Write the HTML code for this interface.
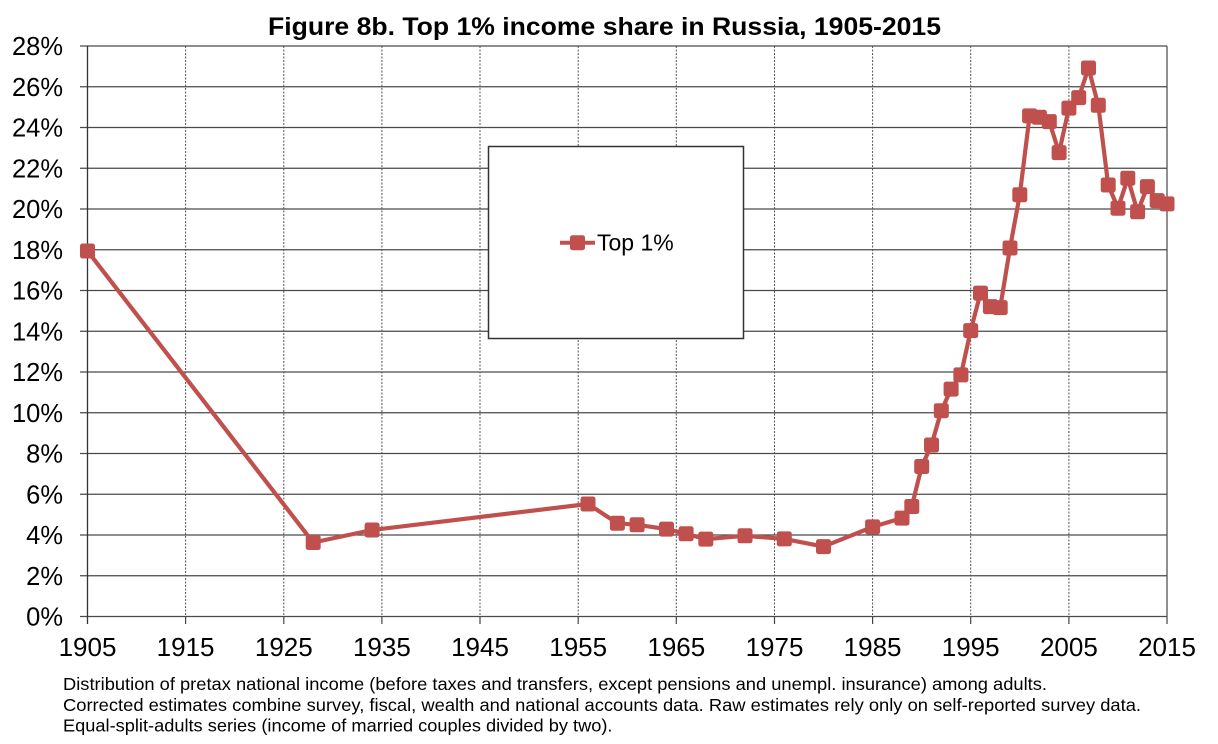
<!DOCTYPE html>
<html><head><meta charset="utf-8"><style>
html,body{margin:0;padding:0;background:#fff;}
svg{display:block;font-family:"Liberation Sans",Arial,sans-serif;}
</style></head><body>
<svg width="1218" height="744" viewBox="0 0 1218 744" xmlns="http://www.w3.org/2000/svg">
<rect width="1218" height="744" fill="#fff"/>
<text x="604.5" y="35" font-size="25" font-weight="bold" text-anchor="middle" textLength="673" lengthAdjust="spacingAndGlyphs" fill="#000">Figure 8b. Top 1% income share in Russia, 1905-2015</text>
<!-- vertical dotted gridlines -->
<g stroke="#555" stroke-width="1" stroke-dasharray="2,1.5">
<line x1="185.6" y1="46" x2="185.6" y2="616.5"/>
<line x1="283.8" y1="46" x2="283.8" y2="616.5"/>
<line x1="381.9" y1="46" x2="381.9" y2="616.5"/>
<line x1="480.0" y1="46" x2="480.0" y2="616.5"/>
<line x1="578.2" y1="46" x2="578.2" y2="616.5"/>
<line x1="676.3" y1="46" x2="676.3" y2="616.5"/>
<line x1="774.5" y1="46" x2="774.5" y2="616.5"/>
<line x1="872.6" y1="46" x2="872.6" y2="616.5"/>
<line x1="970.7" y1="46" x2="970.7" y2="616.5"/>
<line x1="1068.9" y1="46" x2="1068.9" y2="616.5"/>
</g>
<!-- ticks below -->
<g stroke="#444" stroke-width="1.2">
<line x1="185.6" y1="616.5" x2="185.6" y2="624"/>
<line x1="283.8" y1="616.5" x2="283.8" y2="624"/>
<line x1="381.9" y1="616.5" x2="381.9" y2="624"/>
<line x1="480.0" y1="616.5" x2="480.0" y2="624"/>
<line x1="578.2" y1="616.5" x2="578.2" y2="624"/>
<line x1="676.3" y1="616.5" x2="676.3" y2="624"/>
<line x1="774.5" y1="616.5" x2="774.5" y2="624"/>
<line x1="872.6" y1="616.5" x2="872.6" y2="624"/>
<line x1="970.7" y1="616.5" x2="970.7" y2="624"/>
<line x1="1068.9" y1="616.5" x2="1068.9" y2="624"/>
<line x1="1167" y1="616.5" x2="1167" y2="624"/>
</g>
<!-- horizontal gridlines -->
<g stroke="#4a4a4a" stroke-width="1.3">
<line x1="80" y1="616.5" x2="1167" y2="616.5"/>
<line x1="80" y1="575.75" x2="1167" y2="575.75"/>
<line x1="80" y1="535" x2="1167" y2="535"/>
<line x1="80" y1="494.25" x2="1167" y2="494.25"/>
<line x1="80" y1="453.5" x2="1167" y2="453.5"/>
<line x1="80" y1="412.75" x2="1167" y2="412.75"/>
<line x1="80" y1="372" x2="1167" y2="372"/>
<line x1="80" y1="331.25" x2="1167" y2="331.25"/>
<line x1="80" y1="290.5" x2="1167" y2="290.5"/>
<line x1="80" y1="249.75" x2="1167" y2="249.75"/>
<line x1="80" y1="209" x2="1167" y2="209"/>
<line x1="80" y1="168.25" x2="1167" y2="168.25"/>
<line x1="80" y1="127.5" x2="1167" y2="127.5"/>
<line x1="80" y1="86.75" x2="1167" y2="86.75"/>
<line x1="80" y1="46" x2="1167" y2="46"/>
</g>
<line x1="87.5" y1="46" x2="87.5" y2="624" stroke="#333" stroke-width="1.3"/>
<line x1="1167" y1="46" x2="1167" y2="616.5" stroke="#555" stroke-width="1.3"/>
<!-- legend -->
<rect x="488.5" y="146.5" width="255" height="192" fill="#fff" stroke="#333" stroke-width="1.5"/>
<line x1="560" y1="242.7" x2="595" y2="242.7" stroke="#C0504D" stroke-width="4"/>
<rect x="570" y="235.2" width="15" height="15" rx="2.5" fill="#C0504D"/>
<text x="597" y="250.5" font-size="23" fill="#000">Top 1%</text>
<!-- y labels -->
<g font-size="25.5" text-anchor="end" fill="#000">
<text x="63" y="625.5">0%</text>
<text x="63" y="584.75">2%</text>
<text x="63" y="544">4%</text>
<text x="63" y="503.25">6%</text>
<text x="63" y="462.5">8%</text>
<text x="63" y="421.75">10%</text>
<text x="63" y="381">12%</text>
<text x="63" y="340.25">14%</text>
<text x="63" y="299.5">16%</text>
<text x="63" y="258.75">18%</text>
<text x="63" y="218">20%</text>
<text x="63" y="177.25">22%</text>
<text x="63" y="136.5">24%</text>
<text x="63" y="95.75">26%</text>
<text x="63" y="55">28%</text>
</g>
<!-- x labels -->
<g font-size="26" text-anchor="middle" fill="#000">
<text x="87.5" y="656">1905</text>
<text x="185.6" y="656">1915</text>
<text x="283.8" y="656">1925</text>
<text x="381.9" y="656">1935</text>
<text x="480.0" y="656">1945</text>
<text x="578.2" y="656">1955</text>
<text x="676.3" y="656">1965</text>
<text x="774.5" y="656">1975</text>
<text x="872.6" y="656">1985</text>
<text x="970.7" y="656">1995</text>
<text x="1068.9" y="656">2005</text>
<text x="1167" y="656">2015</text>
</g>
<!-- series -->
<polyline fill="none" stroke="#C0504D" stroke-width="4.2" stroke-linejoin="round" points="87.5,251 313.2,542.5 372.1,530 588,504 617.4,523.2 637.1,524.8 666.5,529.1 686.1,533.8 705.8,539.1 745,535.8 784.3,538.9 823.5,546.6 872.6,526.9 902,518.1 911.8,506.5 921.7,466.5 931.5,445 941.3,410.7 951.1,389.1 960.9,374.9 970.7,330.6 980.5,293.1 990.4,306.6 1000.2,307.6 1010,248 1019.8,194.7 1029.6,115.9 1039.4,117.3 1049.3,121.6 1059.1,152.6 1068.9,108.1 1078.7,97.6 1088.5,68 1098.3,105.3 1108.2,185 1118,208.2 1127.8,178.2 1137.6,211.8 1147.4,186.6 1157.2,200.6 1167,203.9"/>
<g fill="#C0504D" transform="translate(-0.5,-0.5)">
<rect x="80.5" y="244" width="15" height="15" rx="2.5"/>
<rect x="306.2" y="535.5" width="15" height="15" rx="2.5"/>
<rect x="365.1" y="523" width="15" height="15" rx="2.5"/>
<rect x="581" y="497" width="15" height="15" rx="2.5"/>
<rect x="610.4" y="516.2" width="15" height="15" rx="2.5"/>
<rect x="630.1" y="517.8" width="15" height="15" rx="2.5"/>
<rect x="659.5" y="522.1" width="15" height="15" rx="2.5"/>
<rect x="679.1" y="526.8" width="15" height="15" rx="2.5"/>
<rect x="698.8" y="532.1" width="15" height="15" rx="2.5"/>
<rect x="738" y="528.8" width="15" height="15" rx="2.5"/>
<rect x="777.3" y="531.9" width="15" height="15" rx="2.5"/>
<rect x="816.5" y="539.6" width="15" height="15" rx="2.5"/>
<rect x="865.6" y="519.9" width="15" height="15" rx="2.5"/>
<rect x="895" y="511.1" width="15" height="15" rx="2.5"/>
<rect x="904.8" y="499.5" width="15" height="15" rx="2.5"/>
<rect x="914.7" y="459.5" width="15" height="15" rx="2.5"/>
<rect x="924.5" y="438" width="15" height="15" rx="2.5"/>
<rect x="934.3" y="403.7" width="15" height="15" rx="2.5"/>
<rect x="944.1" y="382.1" width="15" height="15" rx="2.5"/>
<rect x="953.9" y="367.9" width="15" height="15" rx="2.5"/>
<rect x="963.7" y="323.6" width="15" height="15" rx="2.5"/>
<rect x="973.5" y="286.1" width="15" height="15" rx="2.5"/>
<rect x="983.4" y="299.6" width="15" height="15" rx="2.5"/>
<rect x="993.2" y="300.6" width="15" height="15" rx="2.5"/>
<rect x="1003" y="241" width="15" height="15" rx="2.5"/>
<rect x="1012.8" y="187.7" width="15" height="15" rx="2.5"/>
<rect x="1022.6" y="108.9" width="15" height="15" rx="2.5"/>
<rect x="1032.4" y="110.3" width="15" height="15" rx="2.5"/>
<rect x="1042.3" y="114.6" width="15" height="15" rx="2.5"/>
<rect x="1052.1" y="145.6" width="15" height="15" rx="2.5"/>
<rect x="1061.9" y="101.1" width="15" height="15" rx="2.5"/>
<rect x="1071.7" y="90.6" width="15" height="15" rx="2.5"/>
<rect x="1081.5" y="61" width="15" height="15" rx="2.5"/>
<rect x="1091.3" y="98.3" width="15" height="15" rx="2.5"/>
<rect x="1101.2" y="178" width="15" height="15" rx="2.5"/>
<rect x="1111" y="201.2" width="15" height="15" rx="2.5"/>
<rect x="1120.8" y="171.2" width="15" height="15" rx="2.5"/>
<rect x="1130.6" y="204.8" width="15" height="15" rx="2.5"/>
<rect x="1140.4" y="179.6" width="15" height="15" rx="2.5"/>
<rect x="1150.2" y="193.6" width="15" height="15" rx="2.5"/>
<rect x="1160" y="196.9" width="15" height="15" rx="2.5"/>
</g>
<!-- footnote -->
<g font-size="17.5" fill="#000">
<text x="63" y="690" textLength="984" lengthAdjust="spacingAndGlyphs">Distribution of pretax national income (before taxes and transfers, except pensions and unempl. insurance) among adults.</text>
<text x="63" y="711" textLength="1078" lengthAdjust="spacingAndGlyphs">Corrected estimates combine survey, fiscal, wealth and national accounts data. Raw estimates rely only on self-reported survey data.</text>
<text x="63" y="731.5" textLength="549.5" lengthAdjust="spacingAndGlyphs">Equal-split-adults series (income of married couples divided by two).</text>
</g>
</svg>
</body></html>
